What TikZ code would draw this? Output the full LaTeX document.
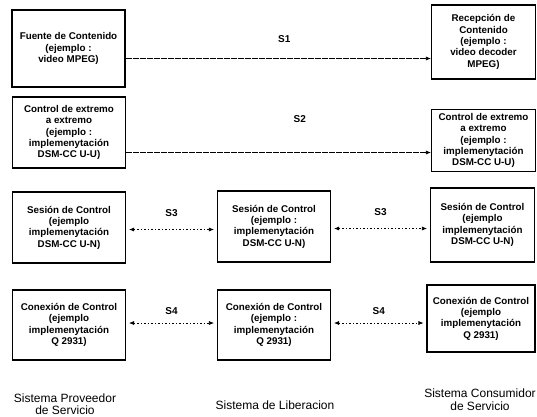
\documentclass[tikz,border=0pt]{standalone}
\usepackage{fontspec}
\setmainfont{Liberation Sans}
\usepackage{tikz}
\usetikzlibrary{arrows.meta,positioning}
\tikzset{
  unit/.style={draw=black, line width=1.1pt, align=center, inner sep=2pt,
    font=\fontsize{9.8}{11.3}\selectfont\bfseries},
  wide/.style={unit, minimum width=113pt},
  narrow/.style={unit, minimum width=104pt},
  flow/.style={-{Latex[length=5pt,width=4pt]}, line width=0.6pt, dash pattern=on 6pt off 1pt},
  ctrlflow/.style={{Latex[length=5pt,width=4pt]}-{Latex[length=5pt,width=4pt]},
    line width=0.6pt, dash pattern=on 1.5pt off 2pt},
  tag/.style={font=\fontsize{10}{12}\selectfont\bfseries},
  sysname/.style={align=center, font=\fontsize{12}{12.5}\selectfont}
}

\begin{document}
\begin{tikzpicture}[x=1pt, y=-1pt]
  \useasboundingbox (0,0) rectangle (537,416);

  % proveedor (left column)
  \node[wide, minimum height=77pt] (fuente) at (68.5,48.5)
    {Fuente de Contenido\\(ejemplo :\\video MPEG)};
  \node[wide, minimum height=71pt] (extP) at (69,132.5)
    {Control de extremo\\a extremo\\(ejemplo :\\implemenytación\\DSM-CC U-U)};
  \node[wide, minimum height=71pt] (sesP) at (69,227.5)
    {Sesión de Control\\(ejemplo\\implemenytación\\DSM-CC U-N)};
  \node[wide, minimum height=70pt] (conP) at (69,325)
    {Conexión de Control\\(ejemplo\\implemenytación\\Q 2931)};

  % liberacion (middle column)
  \node[wide, minimum height=71pt] (sesL) at (274,226.5)
    {Sesión de Control\\(ejemplo :\\implemenytación\\DSM-CC U-N)};
  \node[wide, minimum height=70pt] (conL) at (274,325)
    {Conexión de Control\\(ejemplo :\\implemenytación\\Q 2931)};

  % consumidor (right column)
  \node[narrow, minimum height=74pt] (recep) at (483.5,42)
    {Recepción de\\Contenido\\(ejemplo :\\video decoder\\MPEG)};
  \node[narrow, minimum height=62pt] (extC) at (483.5,140.5)
    {Control de extremo\\a extremo\\(ejemplo :\\implemenytación\\DSM-CC U-U)};
  \node[narrow, minimum height=74pt] (sesC) at (482.5,225)
    {Sesión de Control\\(ejemplo\\implemenytación\\DSM-CC U-N)};
  \node[narrow, minimum width=108pt, minimum height=67pt] (conC) at (481,318.5)
    {Conexión de Control\\(ejemplo\\implemenytación\\Q 2931)};

  % flujos S1..S4
  \draw[flow] ([yshift=-10pt]fuente.east) -- ([yshift=-10pt]fuente.east -| recep.west)
    node[tag, pos=0.52, above=12pt] {S1};
  \draw[flow] ([yshift=-20pt]extP.east) -- ([yshift=-20pt]extP.east -| extC.west)
    node[tag, pos=0.57, above=26pt] {S2};
  \draw[ctrlflow] ([xshift=3pt,yshift=-2pt]sesP.east) -- ([xshift=-3pt,yshift=-2pt]sesP.east -| sesL.west)
    node[tag, midway, above=9pt] {S3};
  \draw[ctrlflow] ([xshift=3pt,yshift=-2pt]sesL.east) -- ([xshift=-3pt,yshift=-2pt]sesL.east -| sesC.west)
    node[tag, midway, above=9pt] {S3};
  \draw[ctrlflow] ([xshift=3pt,yshift=2pt]conP.east) -- ([xshift=-3pt,yshift=2pt]conP.east -| conL.west)
    node[tag, midway, above=5pt] {S4};
  \draw[ctrlflow] ([xshift=3pt,yshift=2pt]conL.east) -- ([xshift=-3pt,yshift=2pt]conL.east -| conC.west)
    node[tag, midway, above=5pt] {S4};

  % nombres de los sistemas
  \node[sysname] (prov) at (65,404) {Sistema Proveedor\\de Servicio};
  \node[sysname] (lib) at (275,405) {Sistema de Liberacion};
  \node[sysname] (cons) at (480,399.5) {Sistema Consumidor\\de Servicio};
\end{tikzpicture}
\end{document}
